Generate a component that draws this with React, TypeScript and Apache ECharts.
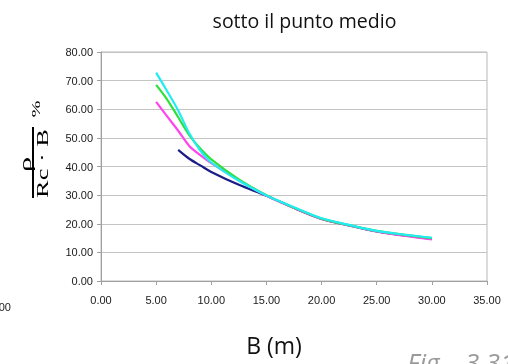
import React, { useEffect, useRef } from "react";
import * as echarts from "echarts";

const B = [5, 6, 7, 8, 9, 10, 12.5, 15, 17.5, 20, 22.5, 25, 27.5, 30];
const navy = [null, null, 45.8, 42.7, 40.4, 38.1, 33.6, 29.8, 25.5, 21.7, 19.4, 17.3, 15.9, 14.7];
const magenta = [62.6, 57.5, 52.5, 47.2, 44.0, 41.2, 35.2, 29.8, 25.5, 21.7, 19.4, 17.3, 15.8, 14.5];
const green = [68.5, 63.4, 57.2, 51.0, 46.3, 42.5, 35.5, 30.0, 25.6, 21.8, 19.5, 17.5, 16.1, 15.0];
const cyan = [72.8, 66.3, 59.6, 51.6, 45.6, 41.4, 35.0, 29.9, 25.8, 21.9, 19.6, 17.5, 16.2, 15.1];

const seriesDefs = [
  { name: "s1", values: navy, color: "#1c1c86" },
  { name: "s2", values: magenta, color: "#ff44ee" },
  { name: "s3", values: green, color: "#2ee03a" },
  { name: "s4", values: cyan, color: "#22ecf2" },
];

const title = "sotto il punto medio";
const xTitle = "B (m)";

export default function App() {
  const ref = useRef<HTMLDivElement>(null);
  useEffect(() => {
    if (!ref.current) return;
    const chart = echarts.init(ref.current, null, { renderer: "svg" });
    const labelStyle = {
      color: "#1a1a1a",
      fontFamily: "Liberation Sans",
      fontSize: 11,
      formatter: (v: number) => v.toFixed(2),
    };
    const rotText = (text: string, x: number, y: number, size: number, stretch: number) => ({
      type: "group",
      x,
      y,
      rotation: Math.PI / 2,
      children: [
        {
          type: "text",
          x: 0,
          y: 0,
          scaleX: stretch,
          scaleY: 1,
          style: {
            text,
            fontFamily: "Liberation Serif",
            fontSize: size,
            fill: "#000",
            align: "center",
            verticalAlign: "middle",
          },
        },
      ],
    });
    chart.setOption({
      animation: false,
      grid: {
        left: 101,
        right: 21,
        top: 52,
        bottom: 83,
        show: true,
        borderColor: "#b8b8b8",
        borderWidth: 1,
      },
      xAxis: {
        type: "value",
        min: 0,
        max: 35,
        interval: 5,
        axisLine: { lineStyle: { color: "#a0a0a0" } },
        axisTick: { show: true, length: 4, lineStyle: { color: "#a0a0a0" } },
        splitLine: { show: false },
        axisLabel: { ...labelStyle, margin: 13 },
      },
      yAxis: {
        type: "value",
        min: 0,
        max: 80,
        interval: 10,
        axisLine: { show: true, lineStyle: { color: "#a0a0a0" } },
        axisTick: { show: true, length: 4, lineStyle: { color: "#a0a0a0" } },
        splitLine: { show: true, lineStyle: { color: "#c4c4c4", width: 1 } },
        axisLabel: { ...labelStyle, margin: 8 },
      },
      series: seriesDefs.map((s) => ({
        type: "line",
        name: s.name,
        data: B.map((b, i) => [b, s.values[i]]).filter((p) => p[1] !== null),
        smooth: 0.3,
        showSymbol: false,
        lineStyle: { color: s.color, width: 2.2 },
        itemStyle: { color: s.color },
      })),
      graphic: [
        {
          type: "text",
          x: 304.5,
          y: 20,
          style: {
            text: title,
            fontFamily: "Open Sans",
            fontSize: 19.5,
            fill: "#111",
            align: "center",
            verticalAlign: "middle",
          },
        },
        {
          type: "text",
          x: 274,
          y: 345,
          style: {
            text: xTitle,
            fontFamily: "Open Sans",
            fontSize: 23,
            fill: "#111",
            align: "center",
            verticalAlign: "middle",
          },
        },
        {
          type: "text",
          x: 11,
          y: 307,
          style: {
            text: "0.00",
            fontFamily: "Liberation Sans",
            fontSize: 11,
            fill: "#1a1a1a",
            align: "right",
            verticalAlign: "middle",
          },
        },
        rotText("ρ", 25.5, 164.5, 16, 1.9),
        {
          type: "rect",
          shape: { x: 32, y: 127, width: 2, height: 71 },
          style: { fill: "#000" },
        },
        rotText("Rc · B", 43, 163.5, 16, 1.65),
        rotText("%", 36, 109, 12, 1.7),
        {
          type: "text",
          x: 407,
          y: 362,
          style: {
            text: "Fig.",
            fontFamily: "Open Sans",
            fontStyle: "italic",
            fontSize: 26,
            fill: "#9a9a9a",
            align: "left",
            verticalAlign: "middle",
          },
        },
        {
          type: "text",
          x: 465,
          y: 362,
          style: {
            text: "3.31",
            fontFamily: "Open Sans",
            fontStyle: "italic",
            fontSize: 26,
            fill: "#9a9a9a",
            align: "left",
            verticalAlign: "middle",
          },
        },
      ],
    });
    return () => chart.dispose();
  }, []);
  return (
    <div
      ref={ref}
      style={{ position: "fixed", left: 0, top: 0, width: 508, height: 364 }}
    />
  );
}
